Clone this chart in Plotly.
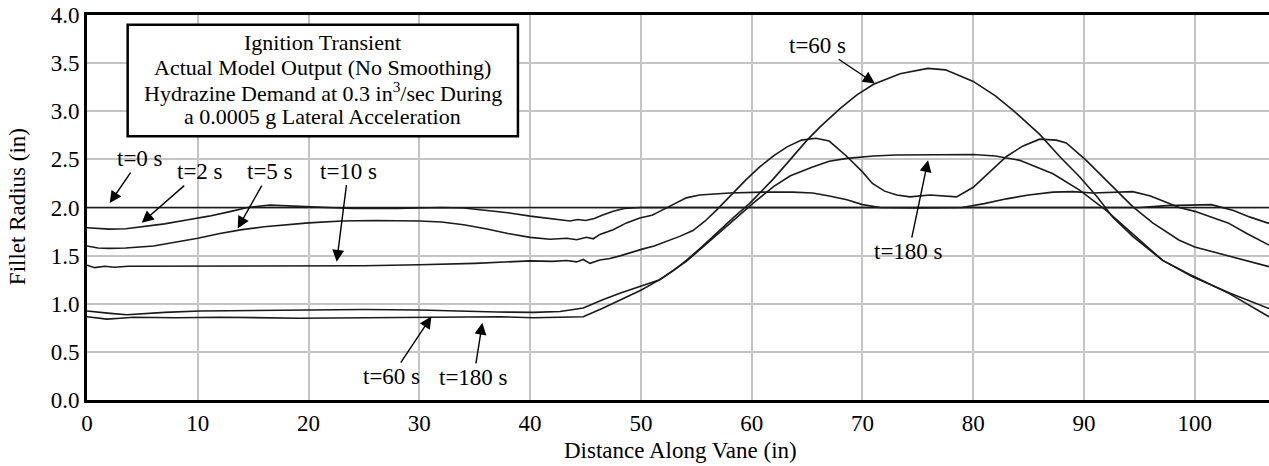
import plotly.graph_objects as go

# ---------------- data ----------------
x_t0 = [0, 106.7]
y_t0 = [2.0, 2.0]

x_t2 = [0, 1, 2, 3.5, 5, 7, 9, 11, 13, 14.5, 16.5, 18.5, 21, 24, 28, 32, 34, 36, 38, 40, 42, 43.6, 44.3, 45, 45.8,
        46.5, 47.5, 48.5, 50, 60, 70, 80, 90, 95, 97.5, 100, 101.5, 103.5, 105, 106.7]
y_t2 = [1.79, 1.78, 1.775, 1.78, 1.80, 1.83, 1.87, 1.91, 1.96, 2.0, 2.025, 2.015, 2.0, 1.99, 1.99, 2.0, 1.995, 1.97,
        1.945, 1.91, 1.88, 1.86, 1.875, 1.865, 1.885, 1.92, 1.96, 1.99, 2.0, 2.0, 2.0, 2.0, 2.0, 2.0, 2.02, 2.03, 2.03,
        1.97, 1.90, 1.835]

x_t5 = [0, 1, 2, 3.5, 6, 8, 10, 12, 14, 16, 18, 20, 23, 26, 30, 32, 34, 36, 38, 40, 41.8, 43.3, 44.2, 45.1, 45.7,
        46.3, 47.5, 48.7, 49.9, 51, 51.7, 52.9, 54.1, 55.3, 56.8, 58, 61, 63.7, 65.5, 67, 68.6, 70, 71.6, 75, 79,
        81, 83, 85, 87.2, 89, 90.8, 92.5, 94.4, 96, 97.5, 98.6, 100, 101.6, 103, 104.7, 106.7]
y_t5 = [1.60, 1.58, 1.575, 1.58, 1.60, 1.64, 1.68, 1.73, 1.77, 1.80, 1.82, 1.84, 1.86, 1.865, 1.86, 1.85, 1.82, 1.78,
        1.73, 1.69, 1.67, 1.68, 1.665, 1.69, 1.675, 1.72, 1.77, 1.84, 1.89, 1.92, 1.96, 2.03, 2.10, 2.13, 2.145, 2.15,
        2.16, 2.16, 2.15, 2.12, 2.08, 2.03, 2.0, 1.995, 2.0, 2.04, 2.09, 2.13, 2.16, 2.165, 2.15, 2.16, 2.165, 2.12,
        2.05, 2.0, 1.96, 1.90, 1.84, 1.73, 1.61]

x_t10 = [0, 0.7, 1.6, 2.5, 3.7, 10, 20, 25, 30, 35, 40, 42, 43.3, 44.2, 44.8, 45.4, 46.3, 47.2, 48.2, 49.3, 50.2,
         51.2, 52.3, 53.5, 54.7, 55.8, 56.8, 58.3, 59.5, 60.7, 62, 63.2, 64.5, 65.8, 67, 68.6, 70, 70.9, 72, 73.1,
         74.3, 76.1, 77.5, 78.5, 80, 81.5, 83, 84.5, 86, 87.5, 88.4, 90.2, 92.6, 94.4, 96.2, 98.6, 100, 101.6, 103,
         104.7, 106.7]
y_t10 = [1.40, 1.375, 1.39, 1.38, 1.39, 1.39, 1.39, 1.395, 1.405, 1.42, 1.445, 1.44, 1.45, 1.435, 1.46, 1.42, 1.455,
         1.47, 1.50, 1.54, 1.57, 1.60, 1.645, 1.70, 1.76, 1.86, 1.97, 2.15, 2.29, 2.42, 2.54, 2.63, 2.70, 2.72, 2.69,
         2.53, 2.37, 2.25, 2.17, 2.13, 2.11, 2.13, 2.12, 2.11, 2.21, 2.37, 2.53, 2.64, 2.71, 2.70, 2.67, 2.49, 2.22,
         2.01, 1.84, 1.66, 1.59, 1.54, 1.50, 1.45, 1.385]

x_t60 = [0, 1, 2.1, 3.6, 5, 7, 10.2, 15, 19.2, 25, 30, 34.3, 37, 40.3, 42.7, 44.8, 46.5, 48.1, 50, 51.7, 53, 54.1,
         55.5, 56.8, 58.3, 59.8, 61.9, 63.5, 65, 66.2, 68, 69.5, 71, 73.4, 75.9, 77.5, 80, 82, 83.6, 86, 87.8, 89.6,
         91.2, 92.6, 94.4, 97.1, 99.8, 103.2, 106.7]
y_t60 = [0.925, 0.91, 0.90, 0.885, 0.895, 0.91, 0.925, 0.93, 0.94, 0.94, 0.935, 0.92, 0.915, 0.91, 0.92, 0.955, 1.04,
         1.11, 1.18, 1.25, 1.35, 1.45, 1.59, 1.73, 1.89, 2.04, 2.29, 2.50, 2.70, 2.84, 3.03, 3.17, 3.28, 3.39, 3.445,
         3.43, 3.31, 3.16, 3.01, 2.76, 2.53, 2.32, 2.11, 1.90, 1.70, 1.45, 1.28, 1.11, 0.95]

x_t180 = [0, 1, 1.8, 3, 4.2, 8, 12, 19.2, 25, 30, 37.3, 40.3, 43, 44.8, 46.5, 48.1, 50, 51.7, 53, 54.1, 55.5, 56.8,
          58.3, 60.3, 62, 63.5, 65.5, 67, 68.6, 71, 73, 76, 80, 82, 84.2, 87.2, 89.6, 92, 94.4, 97.1, 99.8, 103.2,
          106.7]
y_t180 = [0.865, 0.85, 0.84, 0.85, 0.86, 0.855, 0.86, 0.85, 0.855, 0.855, 0.865, 0.855, 0.86, 0.865, 0.95, 1.04,
          1.14, 1.25, 1.35, 1.44, 1.58, 1.71, 1.87, 2.06, 2.22, 2.33, 2.42, 2.48, 2.51, 2.535, 2.545, 2.55, 2.55,
          2.535, 2.49, 2.35, 2.18, 1.97, 1.73, 1.45, 1.29, 1.10, 0.865]

x_ticks = [0, 10, 20, 30, 40, 50, 60, 70, 80, 90, 100]
y_ticks = [0.0, 0.5, 1.0, 1.5, 2.0, 2.5, 3.0, 3.5, 4.0]

box_lines = ["Ignition Transient",
             "Actual Model Output (No Smoothing)",
             "Hydrazine Demand at 0.3 in<sup>3</sup>/sec During",
             "a 0.0005 g Lateral Acceleration"]

# label text, arrow tip (x, y), text centre (x, y)
labels = [
    ("t=0 s", 2.05, 2.046, 4.80, 2.508),
    ("t=2 s", 4.94, 1.841, 10.22, 2.373),
    ("t=5 s", 13.6, 1.783, 16.49, 2.373),
    ("t=10 s", 22.54, 1.436, 23.58, 2.378),
    ("t=60 s", 31.09, 0.867, 27.48, 0.244),
    ("t=180 s", 35.69, 0.803, 34.91, 0.234),
    ("t=60 s", 71.12, 3.289, 65.97, 3.686),
    ("t=180 s", 75.92, 2.492, 74.19, 1.542),
]

# ---------------- figure ----------------
FONT = "Liberation Serif, Times New Roman, serif"
FS = 23
LINE = dict(color="#1a1a1a", width=1.6)

fig = go.Figure()
for name, xs, ys in [("t=0 s", x_t0, y_t0), ("t=2 s", x_t2, y_t2), ("t=5 s", x_t5, y_t5),
                     ("t=10 s", x_t10, y_t10), ("t=60 s", x_t60, y_t60), ("t=180 s", x_t180, y_t180)]:
    fig.add_trace(go.Scatter(x=xs, y=ys, mode="lines", name=name, line=LINE, hoverinfo="skip"))

# text box
fig.add_shape(type="rect", xref="x", yref="y", x0=3.67, x1=38.9, y0=2.74, y1=3.90,
              line=dict(color="black", width=2.5), fillcolor="white", layer="above")
for txt, yc in zip(box_lines, [3.715, 3.45, 3.195, 2.945]):
    fig.add_annotation(x=21.28, y=yc, xref="x", yref="y", text=txt, showarrow=False,
                       xanchor="center", yanchor="middle", font=dict(family=FONT, size=22, color="black"))

for txt, tx, ty, lx, ly in labels:
    fig.add_annotation(x=tx, y=ty, ax=lx, ay=ly, xref="x", yref="y", axref="x", ayref="y",
                       text=txt, showarrow=True, arrowhead=2, arrowsize=1.7, arrowwidth=1.4,
                       arrowcolor="black", standoff=0, startstandoff=0,
                       font=dict(family=FONT, size=FS, color="black"))

# axis titles
fig.add_annotation(x=0.5017, y=-0.13, xref="paper", yref="paper", text="Distance Along Vane (in)",
                   showarrow=False, xanchor="center", yanchor="middle",
                   font=dict(family=FONT, size=FS, color="black"))
fig.add_annotation(x=-0.0592, y=0.501, xref="paper", yref="paper", text="Fillet Radius (in)",
                   showarrow=False, xanchor="center", yanchor="middle", textangle=-90,
                   font=dict(family=FONT, size=FS, color="black"))

fig.update_layout(
    width=1269, height=466,
    margin=dict(l=87, r=0, t=15, b=66, autoexpand=False),
    paper_bgcolor="white", plot_bgcolor="white",
    showlegend=False,
    font=dict(family=FONT, size=FS, color="black"),
    xaxis=dict(range=[0, 106.7], tickvals=x_ticks, ticktext=[str(v) for v in x_ticks],
               showgrid=True, gridcolor="#c4c4c4", gridwidth=1.5,
               showline=True, linecolor="black", linewidth=3, mirror=True,
               ticks="", zeroline=False, automargin=False),
    yaxis=dict(range=[0, 4.0], tickvals=y_ticks, ticktext=[f"{v:.1f}" for v in y_ticks],
               showgrid=True, gridcolor="#c4c4c4", gridwidth=1.5,
               showline=True, linecolor="black", linewidth=3, mirror=False,
               ticks="", zeroline=False, automargin=False),
)

fig.write_html("out.html", config={"displayModeBar": False},
               post_script="document.body.style.margin='0';document.body.style.overflow='hidden';")
